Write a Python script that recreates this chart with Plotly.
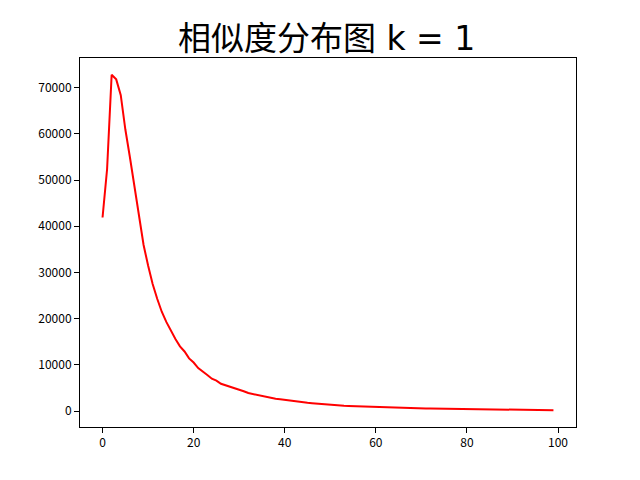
import plotly.graph_objects as go

title_text = "相似度分布图 k = 1"
x_values = list(range(100))
y_values = [
    41900, 52400, 72800, 71800, 68400, 61000, 55000, 48500, 42000, 36000,
    31500, 27500, 24300, 21500, 19300, 17300, 15600, 14000, 12900, 11400,
    10500, 9300, 8600, 7800, 7000, 6600, 5900, 5600, 5300, 4900,
    4600, 4300, 3900, 3700, 3400, 3200, 2950, 2750, 2650, 2550,
    2400, 2250, 2150, 2050, 1900, 1800, 1700, 1600, 1500, 1420,
    1340, 1260, 1180, 1130, 1080, 1040, 1000, 960, 930, 900,
    880, 850, 810, 780, 750, 720, 690, 660, 640, 610,
    590, 570, 550, 530, 510, 490, 480, 460, 450, 430,
    420, 400, 390, 370, 360, 340, 320, 300, 290, 280,
    270, 260, 250, 240, 230, 220, 210, 200, 190, 180,
]
x_ticks = [0, 20, 40, 60, 80, 100]
y_ticks = [0, 10000, 20000, 30000, 40000, 50000, 60000, 70000]

xmin, xmax = min(x_values), max(x_values)
ymin, ymax = min(y_values), max(y_values)
xpad = (xmax - xmin) * 0.05
ypad = (ymax - ymin) * 0.05

fig = go.Figure()
fig.add_trace(go.Scatter(x=x_values, y=y_values, mode="lines",
                         line=dict(color="#ff0000", width=2), showlegend=False,
                         hoverinfo="skip"))

axis_common = dict(showgrid=False, zeroline=False, showline=True, linecolor="black",
                   linewidth=1, mirror=True, ticks="outside", ticklen=5, tickwidth=1,
                   tickcolor="black",
                   tickfont=dict(family="Noto Sans CJK SC", size=12, color="black"))

# page body has an 8px margin, so the figure is 632x472 placed at (8, 8)
fig.update_layout(
    width=632, height=472,
    margin=dict(l=72, r=64, t=50, b=53),
    paper_bgcolor="white", plot_bgcolor="white",
    title=dict(text=title_text, x=0.504, xanchor="center", y=0.935, yanchor="middle",
               font=dict(family="DejaVu Sans, Noto Sans CJK SC", size=33, color="black")),
    xaxis=dict(range=[xmin - xpad, xmax + xpad], tickvals=x_ticks,
               ticktext=[str(v) for v in x_ticks], **axis_common),
    yaxis=dict(range=[ymin - ypad, ymax + ypad], tickvals=y_ticks,
               ticktext=[str(v) for v in y_ticks], **axis_common),
)

fig.write_html("out.html")
